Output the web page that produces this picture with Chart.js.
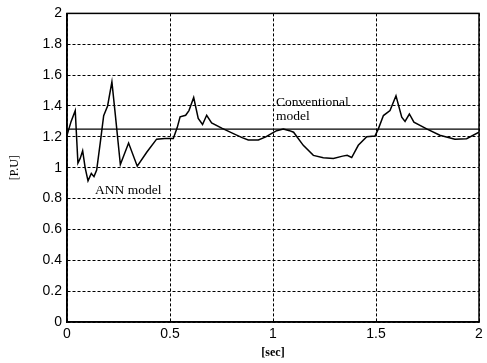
<!DOCTYPE html>
<html>
<head>
<meta charset="utf-8">
<script src="https://cdn.jsdelivr.net/npm/chart.js@4.4.0/dist/chart.umd.min.js"></script>
<style>
  html, body { margin: 0; padding: 0; background: #fff; }
  #wrap { width: 487px; height: 363px; position: relative; }
</style>
</head>
<body>
<div id="wrap"><canvas id="c" width="487" height="363"></canvas></div>
<script>
// ANN model response (time in sec, value in P.U)
const annTime = [0.0, 0.02, 0.04, 0.053, 0.064, 0.076, 0.088, 0.102, 0.118, 0.131, 0.144, 0.162, 0.178, 0.197, 0.218, 0.235, 0.259, 0.299, 0.341, 0.387, 0.435, 0.475, 0.516, 0.535, 0.549, 0.576, 0.592, 0.615, 0.637, 0.658, 0.678, 0.702, 0.751, 0.80, 0.85, 0.88, 0.929, 0.965, 0.994, 1.018, 1.05, 1.08, 1.10, 1.147, 1.196, 1.244, 1.293, 1.338, 1.36, 1.382, 1.414, 1.455, 1.495, 1.511, 1.536, 1.568, 1.597, 1.625, 1.641, 1.662, 1.684, 1.746, 1.81, 1.883, 1.94, 2.0];
const annValue = [1.21, 1.30, 1.37, 1.03, 1.06, 1.11, 1.00, 0.915, 0.963, 0.942, 0.985, 1.167, 1.337, 1.40, 1.556, 1.337, 1.02, 1.16, 1.01, 1.10, 1.185, 1.19, 1.19, 1.26, 1.33, 1.34, 1.37, 1.455, 1.32, 1.28, 1.34, 1.29, 1.256, 1.226, 1.195, 1.18, 1.18, 1.20, 1.222, 1.24, 1.25, 1.24, 1.23, 1.145, 1.08, 1.064, 1.06, 1.075, 1.08, 1.066, 1.145, 1.20, 1.205, 1.25, 1.338, 1.37, 1.466, 1.327, 1.30, 1.348, 1.295, 1.252, 1.21, 1.184, 1.188, 1.23];
// Conventional model (constant)
const convTime = [0, 2];
const convValue = [1.25, 1.25];
// Axis ticks
const xTicks = [0, 0.5, 1, 1.5, 2];
const yTicks = [0, 0.2, 0.4, 0.6, 0.8, 1, 1.2, 1.4, 1.6, 1.8, 2];
// Annotation texts
const labels = [
  { text: 'Conventional', x: 1.015, y: 1.40 },
  { text: 'model', x: 1.015, y: 1.31 },
  { text: 'ANN model', x: 0.136, y: 0.83 }
];

const annData = annTime.map((t, i) => ({ x: t, y: annValue[i] }));
const convData = convTime.map((t, i) => ({ x: t, y: convValue[i] }));

const framePlugin = {
  id: 'frame',
  afterDatasetsDraw(chart) {
    const { ctx, chartArea: a, scales } = chart;
    ctx.save();
    ctx.strokeStyle = '#000';
    ctx.lineWidth = 1.5;
    ctx.strokeRect(a.left, a.top, a.right - a.left, a.bottom - a.top);
    ctx.fillStyle = '#000';
    ctx.font = '13.5px "Liberation Serif", "Times New Roman", serif';
    ctx.textBaseline = 'alphabetic';
    ctx.textAlign = 'left';
    labels.forEach(l => {
      ctx.fillText(l.text, scales.x.getPixelForValue(l.x), scales.y.getPixelForValue(l.y));
    });
    ctx.restore();
  }
};

new Chart(document.getElementById('c'), {
  type: 'line',
  data: {
    datasets: [
      { label: 'ANN model', data: annData, borderColor: '#000', borderWidth: 1.5, pointRadius: 0, tension: 0, fill: false },
      { label: 'Conventional model', data: convData, borderColor: '#000', borderWidth: 1.2, pointRadius: 0, tension: 0, fill: false }
    ]
  },
  options: {
    responsive: false,
    animation: false,
    devicePixelRatio: 1,
    layout: { padding: { left: 0, right: 8, top: 10, bottom: 0 } },
    plugins: { legend: { display: false }, tooltip: { enabled: false } },
    scales: {
      x: {
        type: 'linear',
        min: 0, max: 2,
        afterBuildTicks(s) { s.ticks = xTicks.map(v => ({ value: v })); },
        afterFit(s) { s.height = 41; },
        ticks: {
          color: '#000', padding: 4, maxRotation: 0,
          font: { family: '"Liberation Sans", Arial, sans-serif', size: 14 },
          callback: v => String(v)
        },
        grid: { color: '#000', lineWidth: 1, drawTicks: false },
        border: { display: true, color: '#000', width: 1.5, dash: [3, 2] },
        title: {
          display: true, text: '[sec]', color: '#000',
          font: { family: '"Liberation Serif", "Times New Roman", serif', size: 12, weight: 'bold' },
          padding: { top: 0, bottom: 3 }
        }
      },
      y: {
        min: 0, max: 2,
        afterBuildTicks(s) { s.ticks = yTicks.map(v => ({ value: v })); },
        afterFit(s) { s.width = 67; },
        ticks: {
          color: '#000', padding: 5,
          font: { family: '"Liberation Sans", Arial, sans-serif', size: 14 },
          callback: v => String(v)
        },
        grid: { color: '#000', lineWidth: 1, drawTicks: false },
        border: { display: true, color: '#000', width: 1.5, dash: [3, 2] },
        title: {
          display: true, text: '[P.U]', color: '#000',
          font: { family: '"Liberation Serif", "Times New Roman", serif', size: 12 },
          padding: { top: 8, bottom: 0 }
        }
      }
    }
  },
  plugins: [framePlugin]
});
</script>
</body>
</html>
